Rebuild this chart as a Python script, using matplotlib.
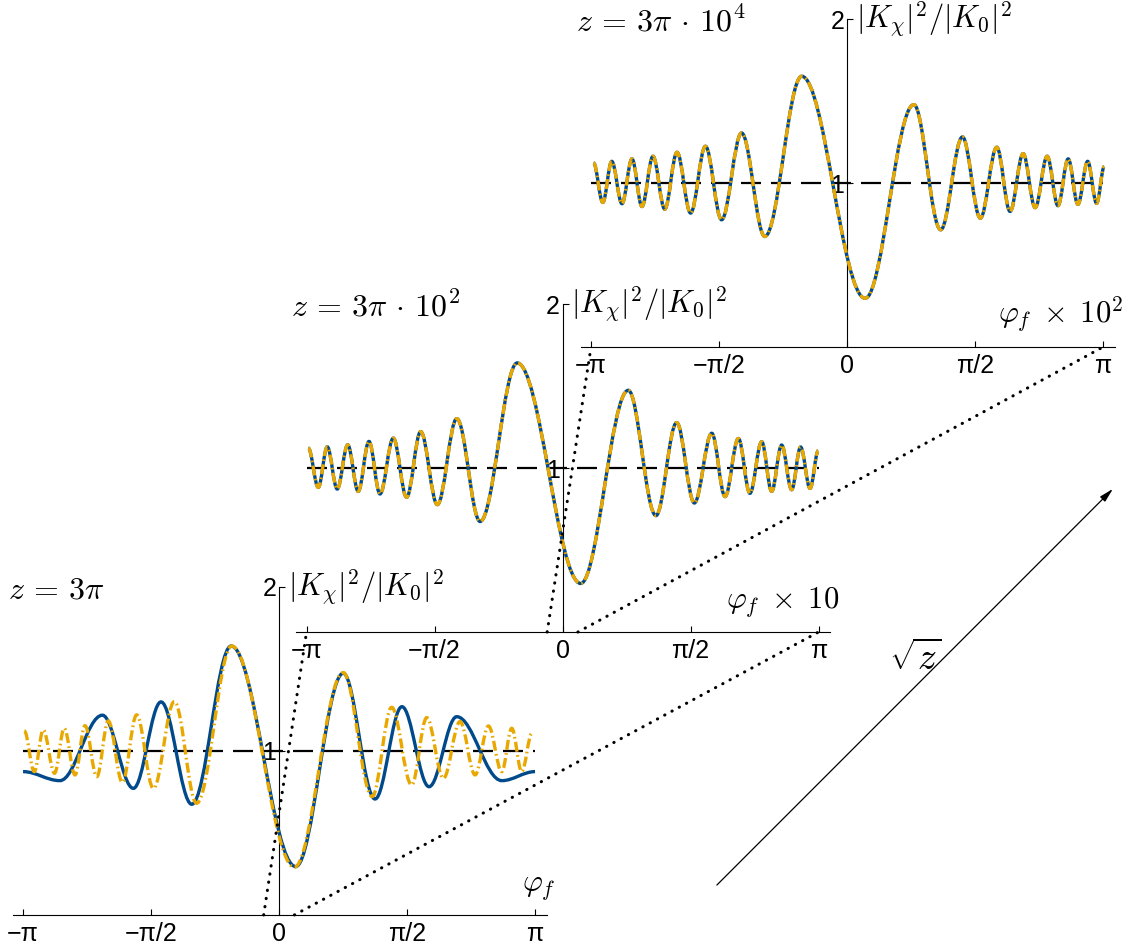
import numpy as np
import matplotlib
matplotlib.use('Agg')
import matplotlib.pyplot as plt
from matplotlib.path import Path
from matplotlib.patches import PathPatch, ConnectionPatch, FancyArrowPatch

plt.rcParams['mathtext.fontset'] = 'cm'
plt.rcParams['font.family'] = ['Liberation Sans', 'DejaVu Sans']

BLUE = '#004a8c'
GOLD = '#e8a800'

# extrema of |K_chi|^2/|K_0|^2 vs phi_f (phi_f in units of pi)
# z = 3 pi
small_blue_x = [-1.000, -0.856, -0.690, -0.569, -0.461, -0.341, -0.187, 0.065,
                0.251, 0.375, 0.480, 0.586, 0.694, 0.870, 1.000]
small_blue_y = [0.874, 0.819, 1.218, 0.772, 1.299, 0.675, 1.640, 0.295,
                1.474, 0.707, 1.270, 0.782, 1.209, 0.819, 0.874]
small_gold_x = [-0.995, -0.956, -0.921, -0.877, -0.839, -0.797, -0.758, -0.712,
                -0.667, -0.612, -0.556, -0.491, -0.409, -0.322, -0.185,
                0.060, 0.251, 0.364, 0.440, 0.518, 0.577, 0.642, 0.707,
                0.766, 0.818, 0.870, 0.909, 0.948, 0.988]
small_gold_y = [1.122, 0.874, 1.128, 0.864, 1.138, 0.854, 1.154, 0.843,
                1.183, 0.809, 1.220, 0.772, 1.301, 0.681, 1.640,
                0.291, 1.478, 0.722, 1.266, 0.793, 1.203, 0.833, 1.179,
                0.854, 1.152, 0.874, 1.138, 0.874, 1.108]

# z = 3 pi * 10^2 (both approximations coincide)
mid_x = [-0.993, -0.954, -0.919, -0.880, -0.839, -0.798, -0.756, -0.713,
         -0.661, -0.609, -0.554, -0.489, -0.413, -0.322, -0.177,
         0.071, 0.257, 0.365, 0.446, 0.515, 0.583, 0.635, 0.687,
         0.732, 0.778, 0.817, 0.856, 0.895, 0.930, 0.967, 0.999]
mid_y = [1.121, 0.882, 1.129, 0.872, 1.141, 0.858, 1.162, 0.842,
         1.182, 0.822, 1.222, 0.777, 1.301, 0.674, 1.641,
         0.296, 1.474, 0.710, 1.277, 0.787, 1.212, 0.826, 1.180,
         0.846, 1.160, 0.858, 1.140, 0.868, 1.128, 0.876, 1.105]

# z = 3 pi * 10^4
big_x = [-0.990, -0.954, -0.919, -0.879, -0.840, -0.801, -0.758, -0.712,
         -0.664, -0.611, -0.553, -0.490, -0.412, -0.321, -0.177,
         0.071, 0.261, 0.366, 0.451, 0.521, 0.585, 0.637, 0.688,
         0.735, 0.782, 0.824, 0.864, 0.902, 0.940, 0.975, 1.005]
big_y = [1.122, 0.882, 1.132, 0.874, 1.147, 0.857, 1.163, 0.841,
         1.187, 0.817, 1.224, 0.776, 1.305, 0.674, 1.651,
         0.297, 1.478, 0.715, 1.281, 0.786, 1.218, 0.827, 1.179,
         0.850, 1.163, 0.862, 1.147, 0.870, 1.132, 0.876, 1.100]

tick_pos = [-1, -0.5, 0, 0.5, 1]
tick_lab = ['\u2212\u03c0', '\u2212\u03c0/2', '0', '\u03c0/2', '\u03c0']


def smooth_path(xs, ys, k=0.363):
    # cubic bezier between extrema, flat tangent at each extremum
    verts = [(xs[0], ys[0])]
    codes = [Path.MOVETO]
    for x0, y0, x1, y1 in zip(xs[:-1], ys[:-1], xs[1:], ys[1:]):
        dx = x1 - x0
        verts += [(x0 + k * dx, y0), (x1 - k * dx, y1), (x1, y1)]
        codes += [Path.CURVE4] * 3
    return Path(verts, codes)


def panel(rect, title, xlabel, blue, gold):
    ax = fig.add_axes(rect)
    ax.patch.set_visible(False)
    ax.set_xlim(-1.04, 1.045)
    ax.set_ylim(0, 2)
    ax.spines['top'].set_visible(False)
    ax.spines['right'].set_visible(False)
    ax.spines['left'].set_position(('data', 0))
    for s in ['left', 'bottom']:
        ax.spines[s].set_linewidth(0.8)
    ax.set_xticks(tick_pos, tick_lab)
    ax.set_yticks([1, 2], ['1', '2'])
    ax.tick_params(direction='in', length=4, width=0.8, labelsize=18)
    ax.tick_params(axis='x', pad=5)
    ax.tick_params(axis='y', pad=2)

    ax.plot([-1, 1], [1, 1], color='k', lw=1.6, dashes=(9, 4.5), zorder=2)
    ax.add_patch(PathPatch(smooth_path(*blue), fill=False, edgecolor=BLUE,
                           lw=2.4, zorder=3, clip_on=False))
    gp = PathPatch(smooth_path(*gold), fill=False, edgecolor=GOLD,
                   lw=2.4, zorder=4, clip_on=False)
    gp.set_linestyle((0, (3.0, 1.0, 0.5, 1.0)))
    ax.add_patch(gp)

    ax.text(-1.06, 1.98, title, fontsize=23, ha='left', va='center')
    ax.text(0.035, 2.0, r'$|K_\chi|^2/|K_0|^2$', fontsize=22,
            ha='left', va='center')
    ax.text(1.08, 0.08, xlabel, fontsize=22, ha='right', va='bottom')
    return ax


fig = plt.figure(figsize=(11.33, 9.51), dpi=100)
fig.patch.set_facecolor('white')

w, h = 0.4711, 0.3449
ax1 = panel([0.0113, 0.0379, w, h], r'$z\,=\,3\pi$', r'$\varphi_f$',
            (small_blue_x, small_blue_y), (small_gold_x, small_gold_y))
ax2 = panel([0.2615, 0.3354, w, h], r'$z\,=\,3\pi\,\cdot\,10^2$',
            r'$\varphi_f\;\times\;10$', (mid_x, mid_y), (mid_x, mid_y))
ax3 = panel([0.5126, 0.6351, w, h], r'$z\,=\,3\pi\,\cdot\,10^4$',
            r'$\varphi_f\;\times\;10^2$', (big_x, big_y), (big_x, big_y))

# zoom guides from a narrow window around 0 to the next panel
for lo, hi in [(ax1, ax2), (ax2, ax3)]:
    for xa, xb in [(-0.06, -1), (0.06, 1)]:
        cp = ConnectionPatch(xyA=(xa, 0), coordsA=lo.transData,
                             xyB=(xb, 0), coordsB=hi.transData,
                             color='k', lw=2.2, linestyle=(0, (0.1, 2.6)),
                             capstyle='round', zorder=5)
        fig.add_artist(cp)

arrow = FancyArrowPatch((0.631, 0.0673), (0.984, 0.488),
                        transform=fig.transFigure,
                        arrowstyle='-|>,head_length=0.6,head_width=0.15',
                        mutation_scale=14, lw=0.9, color='k')
fig.add_artist(arrow)
fig.text(0.808, 0.306, r'$\sqrt{z}$', fontsize=27, ha='center', va='center')

fig.savefig('out.png', dpi=100)
